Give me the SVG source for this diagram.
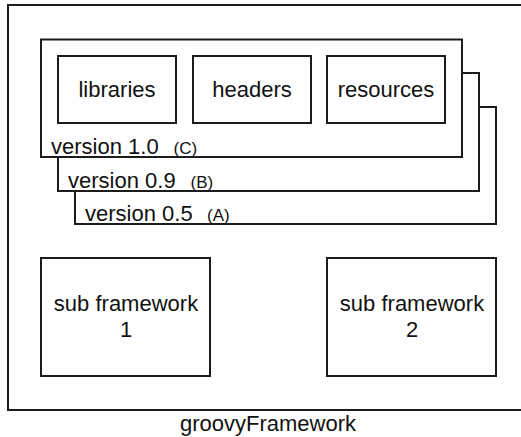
<svg xmlns="http://www.w3.org/2000/svg" width="521" height="437" viewBox="0 0 521 437">
<style>
.box{fill:#fff;stroke:#1c1c1c;stroke-width:2}
.t{font-family:"Liberation Sans",Arial,Helvetica,sans-serif;font-size:22px;fill:#111}
.s{font-family:"Liberation Sans",Arial,Helvetica,sans-serif;font-size:17px;fill:#111}
.c{text-anchor:middle}
</style>
<rect width="521" height="437" fill="#fff"/>
<g id="groovyFramework">
<rect class="box" x="8" y="5" width="520" height="405"/>
<text class="t c" x="268" y="431">groovyFramework</text>
</g>
<g id="version05">
<rect class="box" x="75" y="107" width="421" height="117"/>
<text class="t" x="85" y="221">version 0.5</text>
<text class="s" x="207" y="221">(A)</text>
</g>
<g id="version09">
<rect class="box" x="58" y="73" width="421" height="118"/>
<text class="t" x="68" y="187.5">version 0.9</text>
<text class="s" x="190.5" y="187.5">(B)</text>
</g>
<g id="version10">
<rect class="box" x="41" y="39.5" width="421" height="117.5"/>
<text class="t" x="51" y="154">version 1.0</text>
<text class="s" x="173.5" y="154">(C)</text>
</g>
<g id="libraries">
<rect class="box" x="58" y="56" width="118" height="67"/>
<text class="t c" x="117" y="97">libraries</text>
</g>
<g id="headers">
<rect class="box" x="193" y="56" width="118" height="67"/>
<text class="t c" x="252" y="97">headers</text>
</g>
<g id="resources">
<rect class="box" x="327" y="56" width="118" height="67"/>
<text class="t c" x="386" y="97">resources</text>
</g>
<g id="subframework1">
<rect class="box" x="41" y="258" width="169" height="118"/>
<text class="t c" x="126" y="311">sub framework</text>
<text class="t c" x="126" y="337">1</text>
</g>
<g id="subframework2">
<rect class="box" x="327" y="258" width="169" height="118"/>
<text class="t c" x="412" y="311">sub framework</text>
<text class="t c" x="412" y="337">2</text>
</g>
<g id="connectors"/>
</svg>
